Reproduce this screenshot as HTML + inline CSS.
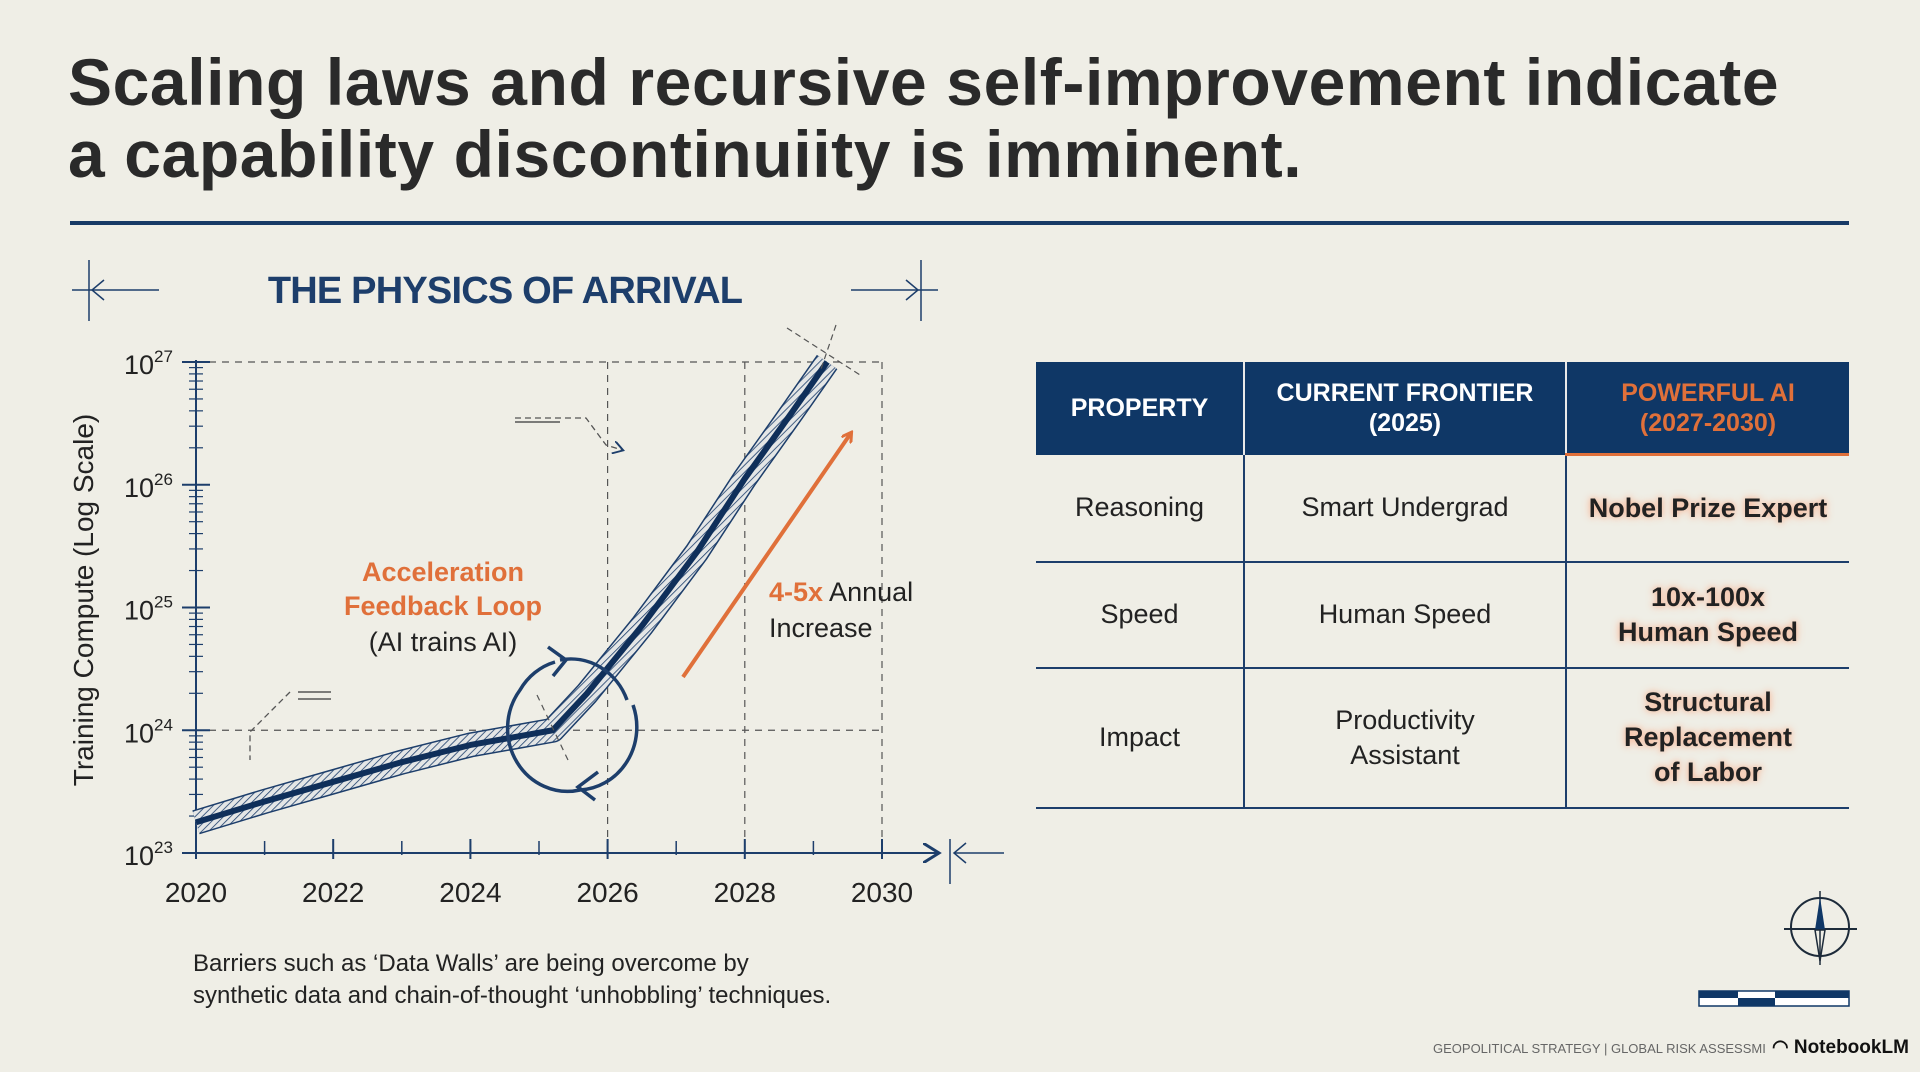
<!DOCTYPE html>
<html><head><meta charset="utf-8">
<style>
html,body{margin:0;padding:0}
body{width:1920px;height:1072px;background:#efeee6;position:relative;overflow:hidden;font-family:"Liberation Sans",sans-serif;color:#222}
.t{position:absolute;white-space:nowrap}
#title{left:68px;top:46px;font-size:66px;font-weight:bold;line-height:72px;color:#2a2a2a;letter-spacing:0.6px}
#rule{position:absolute;left:70px;top:221px;width:1779px;height:4px;background:#173a66}
table{position:absolute;left:1036px;top:362px;width:813px;border-collapse:collapse;font-family:"Liberation Sans",sans-serif}
th{background:#0f3766;color:#fff;font-size:25px;font-weight:bold;height:91px;line-height:30px;border-left:2px solid #e8e8e8;padding:0}
th:first-child{border-left:none}
th.pw{color:#e0703a;border-bottom:3px solid #e0703a}
td{font-size:27px;text-align:center;border-bottom:2px solid #1d3e6b;border-left:2px solid #1d3e6b;line-height:35px;padding:0}
td:first-child{border-left:none}
td.b{font-weight:bold;text-shadow:0 0 6px #f6b89a,0 0 10px #f8c9b0}
</style></head><body>
<div id="title" class="t">Scaling laws and recursive self-improvement indicate<br>a capability discontinuiity is imminent.</div>
<div id="rule"></div>

<svg id="chart" width="1020" height="1072" style="position:absolute;left:0;top:0"></svg>

<div class="t" style="left:193px;top:948px;font-size:24px;line-height:32px;color:#222">Barriers such as ‘Data Walls’ are being overcome by<br>synthetic data and chain-of-thought ‘unhobbling’ techniques.</div>

<table>
<tr style="height:91px"><th style="width:207px">PROPERTY</th><th style="width:320px">CURRENT FRONTIER<br>(2025)</th><th class="pw">POWERFUL AI<br>(2027-2030)</th></tr>
<tr style="height:107px"><td>Reasoning</td><td>Smart Undergrad</td><td class="b">Nobel Prize Expert</td></tr>
<tr style="height:106px"><td>Speed</td><td>Human Speed</td><td class="b">10x-100x<br>Human Speed</td></tr>
<tr style="height:140px"><td>Impact</td><td>Productivity<br>Assistant</td><td class="b">Structural<br>Replacement<br>of Labor</td></tr>
</table>

<svg width="80" height="80" style="position:absolute;left:1780px;top:887px">
<circle cx="40" cy="40" r="29" fill="none" stroke="#1d2b3a" stroke-width="2"/>
<line x1="4" y1="42" x2="77" y2="42" stroke="#1d2b3a" stroke-width="2"/>
<line x1="40" y1="4" x2="40" y2="78" stroke="#1d2b3a" stroke-width="1.5"/>
<polygon points="40,10 45,43 35,43" fill="#0f3766"/>
<polygon points="40,74 45,43 35,43" fill="none" stroke="#1d2b3a" stroke-width="1.5"/>
</svg>
<svg width="152" height="20" style="position:absolute;left:1698px;top:990px">
<rect x="1" y="1" width="150" height="15" fill="#fff" stroke="#0f3766" stroke-width="1.5"/>
<rect x="1" y="1" width="39" height="7" fill="#0f3766"/><rect x="40" y="8" width="37" height="8" fill="#0f3766"/><rect x="77" y="1" width="74" height="7" fill="#0f3766"/>
</svg>
<div class="t" style="left:1433px;top:1041px;font-size:13px;color:#666">GEOPOLITICAL STRATEGY | GLOBAL RISK ASSESSMI</div>
<div class="t" style="left:1772px;top:1036px;font-size:19px;font-weight:bold;color:#111">◠ NotebookLM</div>

<script>
const years = [2020, 2021, 2022, 2023, 2024, 2025.2, 2025.7, 2026.5, 2027.3, 2028, 2028.7, 2029.2];
const logCompute = [23.25, 23.42, 23.58, 23.74, 23.88, 24.0, 24.3, 24.85, 25.45, 26.05, 26.6, 27.0];
const xTicks = [2020, 2022, 2024, 2026, 2028, 2030];
const yTicks = [23, 24, 25, 26, 27];

const NS = 'http://www.w3.org/2000/svg';
const svg = document.getElementById('chart');
const x = v => 196 + (v - 2020) * (882 - 196) / 10;
const y = v => 853 - (v - 23) * (853 - 362) / 4;
const DK = '#1d3e6b';
function mk(tag, attrs, parent) {
  const e = document.createElementNS(NS, tag);
  for (const k in attrs) e.setAttribute(k, attrs[k]);
  (parent || svg).appendChild(e);
  return e;
}
svg.innerHTML = '<defs><pattern id="hatch" width="5" height="5" patternUnits="userSpaceOnUse" patternTransform="rotate(45)"><rect width="5" height="5" fill="#e4e6e6"/><line x1="0" y1="0" x2="0" y2="5" stroke="#1d3e6b" stroke-width="1.6"/></pattern><marker id="ah" markerWidth="10" markerHeight="10" refX="7" refY="5" orient="auto"><path d="M0,0 L8,5 L0,10" fill="none" stroke="#1d3e6b" stroke-width="1.5"/></marker><marker id="ao" markerWidth="12" markerHeight="12" refX="9" refY="6" orient="auto" markerUnits="userSpaceOnUse"><path d="M0,0 L10,6 L0,12" fill="none" stroke="#e0703a" stroke-width="3"/></marker></defs>';

// title + brackets
let t = mk('text', {x: 505, y: 303, 'text-anchor': 'middle', 'font-size': 38, 'font-weight': 'bold', fill: DK, 'letter-spacing': '-0.8'});
t.textContent = 'THE PHYSICS OF ARRIVAL';


mk('line', {x1: 89, y1: 260, x2: 89, y2: 321, stroke: DK, 'stroke-width': 1.5});
mk('line', {x1: 72, y1: 290, x2: 159, y2: 290, stroke: DK, 'stroke-width': 1.5});
mk('path', {d: 'M104,280 L92,290 L104,300', fill: 'none', stroke: DK, 'stroke-width': 1.5});
mk('line', {x1: 921, y1: 260, x2: 921, y2: 321, stroke: DK, 'stroke-width': 1.5});
mk('line', {x1: 851, y1: 290, x2: 938, y2: 290, stroke: DK, 'stroke-width': 1.5});
mk('path', {d: 'M906,280 L918,290 L906,300', fill: 'none', stroke: DK, 'stroke-width': 1.5});
mk('line', {x1: 950, y1: 839, x2: 950, y2: 884, stroke: DK, 'stroke-width': 1.5});
mk('line', {x1: 954, y1: 853, x2: 1004, y2: 853, stroke: DK, 'stroke-width': 1.5});
mk('path', {d: 'M966,843 L954,853 L966,863', fill: 'none', stroke: DK, 'stroke-width': 1.5});

// grid dashed
const dash = {stroke: '#555', 'stroke-width': 1.2, 'stroke-dasharray': '7 6', fill: 'none'};
mk('line', Object.assign({x1: x(2020), y1: y(27), x2: x(2030), y2: y(27)}, dash));
mk('line', Object.assign({x1: x(2020), y1: y(24), x2: x(2030), y2: y(24)}, dash));
[2026, 2028, 2030].forEach(v => mk('line', Object.assign({x1: x(v), y1: y(27), x2: x(v), y2: y(23)}, dash)));

// axes
mk('line', {x1: x(2020), y1: y(23), x2: 937, y2: y(23), stroke: DK, 'stroke-width': 2, 'marker-end': 'url(#ah)'});
mk('line', {x1: x(2020), y1: y(23), x2: x(2020), y2: y(27) - 2, stroke: DK, 'stroke-width': 2});
for (let d = 23; d < 27; d++) for (let m = 1; m < 10; m++) {
  const yy = y(d + Math.log10(m));
  mk('line', {x1: x(2020) - 7, y1: yy, x2: x(2020) + 7, y2: yy, stroke: DK, 'stroke-width': 1.2});
}
for (let v = 2021; v <= 2029; v++) mk('line', {x1: x(v), y1: y(23) - 12, x2: x(v), y2: y(23) + 2, stroke: DK, 'stroke-width': 1.5});
xTicks.forEach(v => {
  const e = mk('text', {x: x(v), y: 902, 'text-anchor': 'middle', 'font-size': 28, fill: '#222'});
  e.textContent = v;
  
  
  mk('line', {x1: x(v), y1: y(23) - 14, x2: x(v), y2: y(23) + 6, stroke: DK, 'stroke-width': 2});
});
yTicks.forEach(v => {
  const e = mk('text', {x: 124, y: y(v) + 12, 'font-size': 27, fill: '#222'});
  e.innerHTML = '10<tspan dy="-12" font-size="17">' + v + '</tspan>';
  
  
  mk('line', {x1: x(2020) - 14, y1: y(v), x2: x(2020) + 14, y2: y(v), stroke: DK, 'stroke-width': 2});
});
t = mk('text', {x: 0, y: 0, transform: 'translate(93,600) rotate(-90)', 'text-anchor': 'middle', 'font-size': 28, fill: '#222'});
t.textContent = 'Training Compute (Log Scale)';



// curve
let d = '';
years.forEach((v, i) => { d += (i ? 'L' : 'M') + x(v) + ',' + y(logCompute[i]); });
mk('path', {d: d, fill: 'none', stroke: DK, 'stroke-width': 25, 'stroke-linejoin': 'round'});
mk('path', {d: d, fill: 'none', stroke: 'url(#hatch)', 'stroke-width': 22, 'stroke-linejoin': 'round'});
const ln = mk('path', {d: d, fill: 'none', stroke: '#0f2f5a', 'stroke-width': 6, 'stroke-linejoin': 'round'});



// loop
mk('path', {d: 'M560,660 A60,63 0 0,1 627,700', fill: 'none', stroke: DK, 'stroke-width': 3.5});
mk('path', {d: 'M548,647 L566,660 L553,676', fill: 'none', stroke: DK, 'stroke-width': 3.5});
mk('path', {d: 'M633,705 A60,63 0 0,1 580,790 A60,63 0 0,1 520,690 A60,63 0 0,1 555,662', fill: 'none', stroke: DK, 'stroke-width': 3.5});
mk('path', {d: 'M598,772 L578,787 L595,800', fill: 'none', stroke: DK, 'stroke-width': 3.5});
mk('line', {x1: 537, y1: 695, x2: 568, y2: 760, stroke: '#555', 'stroke-width': 1.2, 'stroke-dasharray': '6 5'});

// annotation arrows
mk('path', {d: 'M515,418 L586,418 L606,445 L622,450', fill: 'none', stroke: '#555', 'stroke-width': 1.3, 'stroke-dasharray': '6 4', 'marker-end': 'url(#ah)'});
mk('line', {x1: 515, y1: 422, x2: 560, y2: 422, stroke: '#555', 'stroke-width': 1.5});
mk('path', {d: 'M290,692 L250,732 L250,760', fill: 'none', stroke: '#555', 'stroke-width': 1.3, 'stroke-dasharray': '6 4'});
mk('line', {x1: 298, y1: 692, x2: 331, y2: 692, stroke: '#555', 'stroke-width': 1.5});
mk('line', {x1: 298, y1: 699, x2: 331, y2: 699, stroke: '#555', 'stroke-width': 1.5});
mk('line', {x1: 787, y1: 328, x2: 860, y2: 375, stroke: '#555', 'stroke-width': 1.2, 'stroke-dasharray': '6 4'});
mk('line', {x1: 836, y1: 325, x2: 820, y2: 372, stroke: '#555', 'stroke-width': 1.2, 'stroke-dasharray': '6 4'});

// orange arrow
const oa = mk('line', {x1: 683, y1: 677, x2: 851, y2: 433, stroke: '#e0703a', 'stroke-width': 4, 'marker-end': 'url(#ao)'});


t = mk('text', {x: 769, y: 601, 'font-size': 27, fill: '#222'});
t.innerHTML = '<tspan fill="#e0703a" font-weight="bold">4-5x</tspan> Annual';


t = mk('text', {x: 769, y: 637, 'font-size': 27, fill: '#222'}); t.textContent = 'Increase';


[['Acceleration', 581, '#e0703a', 'bold'], ['Feedback Loop', 615, '#e0703a', 'bold'], ['(AI trains AI)', 651, '#222', 'normal']].forEach(r => {
  const e = mk('text', {x: 443, y: r[1], 'text-anchor': 'middle', 'font-size': 27, fill: r[2], 'font-weight': r[3]});
  e.textContent = r[0];
  
  
});
</script>
</body></html>
